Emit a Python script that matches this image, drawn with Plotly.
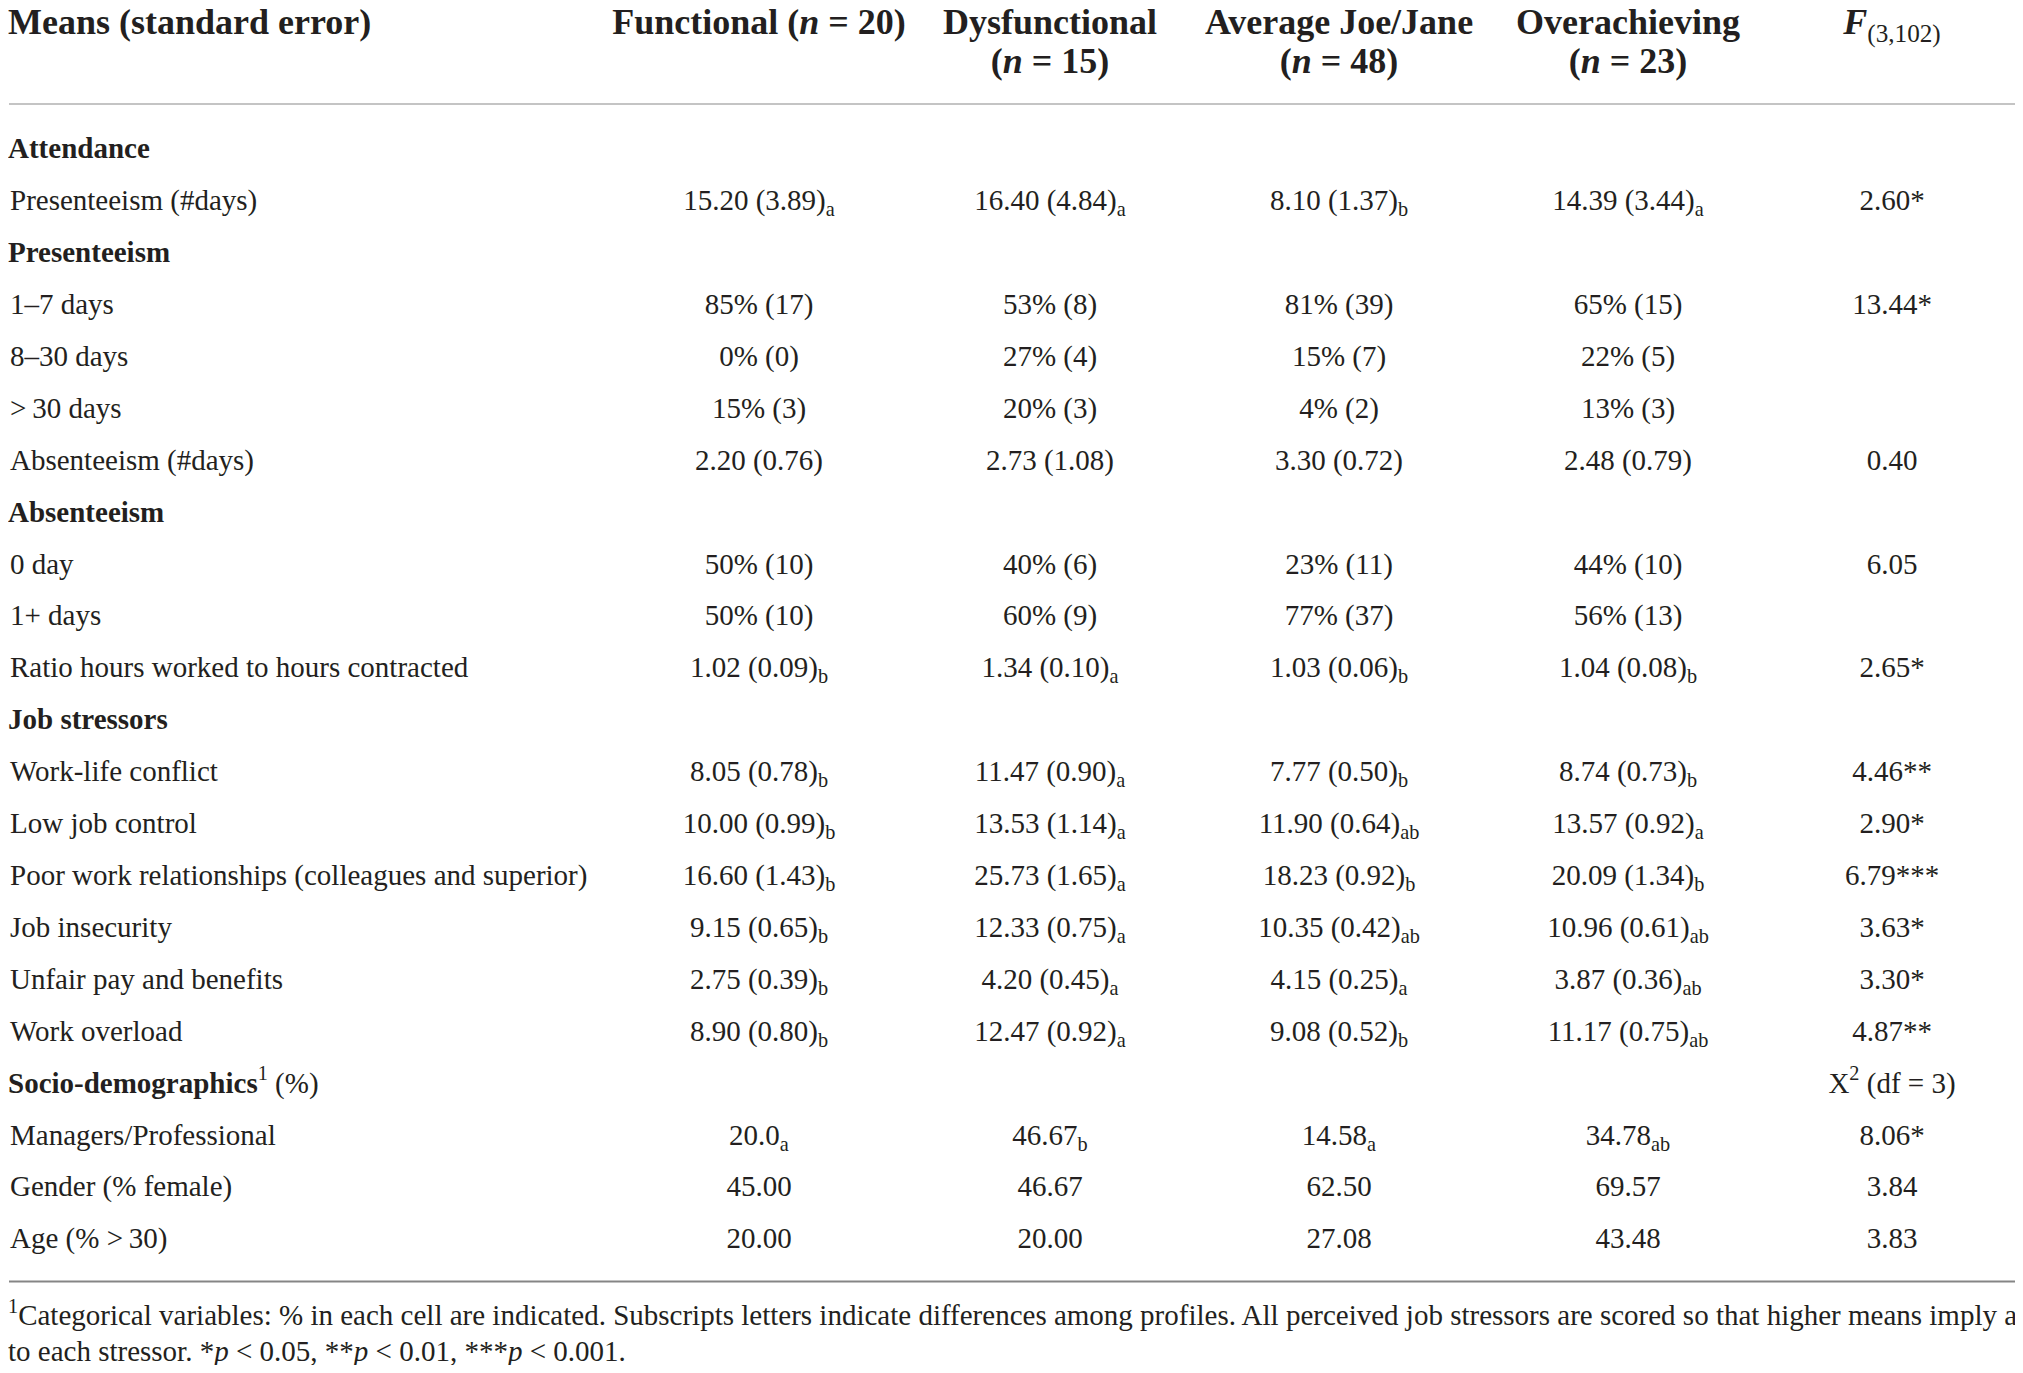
import plotly.graph_objects as go

# ---- table content ----
groups = ["Functional", "Dysfunctional", "Average Joe/Jane", "Overachieving"]
group_n = [20, 15, 48, 23]
stat_header = "<b><i>F</i></b><sub>(3,102)</sub>"

row_labels = [
    "Attendance",
    "Presenteeism (#days)",
    "Presenteeism",
    "1–7 days",
    "8–30 days",
    "&gt;\u200930 days",
    "Absenteeism (#days)",
    "Absenteeism",
    "0 day",
    "1+ days",
    "Ratio hours worked to hours contracted",
    "Job stressors",
    "Work-life conflict",
    "Low job control",
    "Poor work relationships (colleagues and superior)",
    "Job insecurity",
    "Unfair pay and benefits",
    "Work overload",
    "Socio-demographics<sup>1</sup> (%)",
    "Managers/Professional",
    "Gender (% female)",
    "Age (% &gt;\u200930)",
]
section_rows = [0, 2, 7, 11, 18]

# "_x" marks a subscript letter
functional = ["", "15.20 (3.89)_a", "", "85% (17)", "0% (0)", "15% (3)", "2.20 (0.76)", "",
              "50% (10)", "50% (10)", "1.02 (0.09)_b", "", "8.05 (0.78)_b", "10.00 (0.99)_b",
              "16.60 (1.43)_b", "9.15 (0.65)_b", "2.75 (0.39)_b", "8.90 (0.80)_b", "",
              "20.0_a", "45.00", "20.00"]
dysfunctional = ["", "16.40 (4.84)_a", "", "53% (8)", "27% (4)", "20% (3)", "2.73 (1.08)", "",
                 "40% (6)", "60% (9)", "1.34 (0.10)_a", "", "11.47 (0.90)_a", "13.53 (1.14)_a",
                 "25.73 (1.65)_a", "12.33 (0.75)_a", "4.20 (0.45)_a", "12.47 (0.92)_a", "",
                 "46.67_b", "46.67", "20.00"]
average = ["", "8.10 (1.37)_b", "", "81% (39)", "15% (7)", "4% (2)", "3.30 (0.72)", "",
           "23% (11)", "77% (37)", "1.03 (0.06)_b", "", "7.77 (0.50)_b", "11.90 (0.64)_ab",
           "18.23 (0.92)_b", "10.35 (0.42)_ab", "4.15 (0.25)_a", "9.08 (0.52)_b", "",
           "14.58_a", "62.50", "27.08"]
overachieving = ["", "14.39 (3.44)_a", "", "65% (15)", "22% (5)", "13% (3)", "2.48 (0.79)", "",
                 "44% (10)", "56% (13)", "1.04 (0.08)_b", "", "8.74 (0.73)_b", "13.57 (0.92)_a",
                 "20.09 (1.34)_b", "10.96 (0.61)_ab", "3.87 (0.36)_ab", "11.17 (0.75)_ab", "",
                 "34.78_ab", "69.57", "43.48"]
f_stats = ["", "2.60*", "", "13.44*", "", "", "0.40", "", "6.05", "", "2.65*", "",
           "4.46**", "2.90*", "6.79***", "3.63*", "3.30*", "4.87**",
           "X<sup>2</sup> (df = 3)", "8.06*", "3.84", "3.83"]

footnotes = [
    "<sup>1</sup>Categorical variables: % in each cell are indicated. Subscripts letters indicate "
    "differences among profiles. All perceived job stressors are scored so that higher means imply "
    "a higher exposure",
    "to each stressor. *<i>p</i> &lt; 0.05, **<i>p</i> &lt; 0.01, "
    "***<i>p</i> &lt; 0.001.",
]

# ---- layout (page pixels) ----
W, H, OFF = 2007, 1357, 8
FONT = "Liberation Serif"
INK = "#231f20"
BODY, HEAD = 29, 36
COL_X = [759, 1050, 1339, 1628, 1892]
ROW0, PITCH = 151, 51.91
HEAD_Y = [25, 64]
NOTE_Y0, NOTE_PITCH = 1318, 36
SECTION_X, ITEM_X = 8, 10


def cell(s):
    if "_" in s:
        v, sub = s.split("_")
        return f"{v}<sub>{sub}</sub>"
    return s


def label(i, s):
    if i in section_rows:
        head, _, rest = s.partition("<sup>")
        return f"<b>{head}</b>" + (f"<sup>{rest}" if rest else "")
    return s


row_y = [ROW0 + i * PITCH for i in range(len(row_labels))]
common = dict(mode="text", cliponaxis=False, hoverinfo="skip", showlegend=False)

fig = go.Figure()

# header
fig.add_trace(go.Scatter(
    x=[SECTION_X], y=[HEAD_Y[0]], text=["<b>Means (standard error)</b>"],
    textposition="middle right", textfont=dict(family=FONT, size=HEAD, color=INK), **common))
h1, h2 = [], []
for g, n in zip(groups, group_n):
    if len(g) < 12:
        h1.append(f"<b>{g} (<i>n</i> = {n})</b>")
        h2.append("")
    else:
        h1.append(f"<b>{g}</b>")
        h2.append(f"<b>(<i>n</i> = {n})</b>")
h1.append(stat_header)
h2.append("")
fig.add_trace(go.Scatter(
    x=COL_X + COL_X, y=[HEAD_Y[0]] * 5 + [HEAD_Y[1]] * 5, text=h1 + h2,
    textposition="middle center", textfont=dict(family=FONT, size=HEAD, color=INK), **common))

# row labels
lx = [SECTION_X if i in section_rows else ITEM_X for i in range(len(row_labels))]
fig.add_trace(go.Scatter(
    x=lx, y=row_y, text=[label(i, s) for i, s in enumerate(row_labels)],
    textposition="middle right", textfont=dict(family=FONT, size=BODY, color=INK), **common))

# value columns
for cx, col in zip(COL_X, [functional, dysfunctional, average, overachieving, f_stats]):
    fig.add_trace(go.Scatter(
        x=[cx] * len(col), y=row_y, text=[cell(s) for s in col],
        textposition="middle center", textfont=dict(family=FONT, size=BODY, color=INK),
        **common))

# footnote
fig.add_trace(go.Scatter(
    x=[SECTION_X] * len(footnotes),
    y=[NOTE_Y0 + i * NOTE_PITCH for i in range(len(footnotes))],
    text=footnotes, textposition="middle right",
    textfont=dict(family=FONT, size=BODY, color=INK), **common))

# rules
rule_top = 104
rule_bottom = row_y[-1] + PITCH * 0.78
fig.add_shape(type="line", x0=9, x1=2015, y0=rule_top, y1=rule_top, xref="x", yref="y",
              line=dict(color="#c4c4c4", width=2))
fig.add_shape(type="line", x0=9, x1=2015, y0=rule_bottom, y1=rule_bottom, xref="x", yref="y",
              line=dict(color="#858585", width=2))

fig.update_layout(
    width=W, height=H, margin=dict(l=0, r=0, t=0, b=0),
    paper_bgcolor="white", plot_bgcolor="white",
    xaxis=dict(range=[OFF, OFF + W], visible=False, fixedrange=True),
    yaxis=dict(range=[OFF + H, OFF], visible=False, fixedrange=True),
)

fig.write_html("out.html")
